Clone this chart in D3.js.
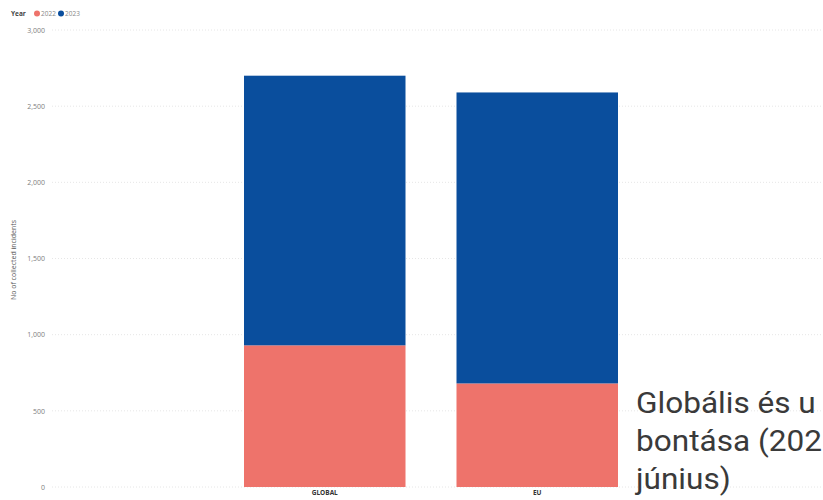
<!DOCTYPE html>
<html><head><meta charset="utf-8">
<script src="https://cdn.jsdelivr.net/npm/d3@7/dist/d3.min.js"></script>
<style>
body{margin:0;background:#fff;overflow:hidden;}
svg{display:block;}
</style></head>
<body>
<svg id="chart" width="823" height="500"></svg>
<script>
const categories = ["GLOBAL", "EU"];
const years = ["2022", "2023"];
const values2022 = [930, 680];
const values2023 = [1770, 1910];
const yTicks = [0, 500, 1000, 1500, 2000, 2500, 3000];
const colors = {"2022": "#EE736B", "2023": "#0A4E9D"};
const overlayLines = ["Globális és u", "bontása (202", "június)"];

const svg = d3.select("#chart");
const W = 823, H = 500;
const y = d3.scaleLinear().domain([0, 3000]).range([487, 30]);
const x = d3.scaleBand().domain(categories).range([218.5, 643.5]).paddingInner(0.24).paddingOuter(0.12);

const rows = categories.map((c, i) => ({cat: c, "2022": values2022[i], "2023": values2023[i]}));
const stack = d3.stack().keys(years)(rows);

// gridlines
svg.append("g").selectAll("line").data(yTicks).join("line")
  .attr("x1", 52).attr("x2", W)
  .attr("y1", d => y(d)).attr("y2", d => y(d))
  .attr("stroke", "#e6e6e6").attr("stroke-width", 1).attr("stroke-dasharray", "1,2");

// y axis labels
const yAxis = d3.axisLeft(y).tickValues(yTicks).tickSize(0).tickPadding(0).tickFormat(d3.format(","));
const ya = svg.append("g").attr("transform", "translate(45,0)").call(yAxis);
ya.select(".domain").remove();
ya.selectAll("text").attr("font-family", "'Open Sans', sans-serif").attr("font-size", 7).attr("fill", "#808080");

// bars
svg.append("g").selectAll("g").data(stack).join("g")
  .attr("fill", d => colors[d.key])
  .selectAll("rect").data(d => d).join("rect")
  .attr("x", d => x(d.data.cat))
  .attr("width", x.bandwidth())
  .attr("y", d => y(d[1]))
  .attr("height", d => y(d[0]) - y(d[1]));

// x axis labels
const xAxis = d3.axisBottom(x).tickSize(0).tickPadding(0);
const xa = svg.append("g").attr("transform", "translate(0,490)").call(xAxis);
xa.select(".domain").remove();
xa.selectAll("text").attr("font-family", "'Open Sans', sans-serif").attr("font-size", 6.5)
  .attr("font-weight", "bold").attr("fill", "#333").attr("dy", "0.71em");

// y title
svg.append("text").attr("transform", "translate(16,260) rotate(-90)")
  .attr("text-anchor", "middle").attr("font-family", "'Open Sans', sans-serif")
  .attr("font-size", 7).attr("fill", "#555").text("No of collected incidents");

// legend
const lg = svg.append("g").attr("font-family", "'Open Sans', sans-serif").attr("font-size", 6.5);
lg.append("text").attr("x", 11).attr("y", 16).attr("font-weight", "bold").attr("fill", "#444").text("Year");
let lx = 37;
years.forEach((yr) => {
  lg.append("circle").attr("cx", lx).attr("cy", 13.5).attr("r", 3).attr("fill", colors[yr]);
  lg.append("text").attr("x", lx + 4).attr("y", 16).attr("fill", "#888").text(yr);
  lx += 24;
});

// overlay text
const ov = svg.append("g").attr("font-family", "Roboto, sans-serif").attr("font-size", 30).attr("fill", "#3a3a3a");
const texts = overlayLines.map((t, i) => ov.append("text").attr("x", 0).attr("y", 413 + i * 38).text(t));
const wJ = texts[2].node().getComputedTextLength();
let sx = 100 / wJ;
const maxW = d3.max(texts, t => t.node().getComputedTextLength());
sx = Math.min(sx, (W - 636 - 1) / maxW);
ov.attr("transform", `translate(636,0) scale(${sx},1)`);
</script>
</body></html>
